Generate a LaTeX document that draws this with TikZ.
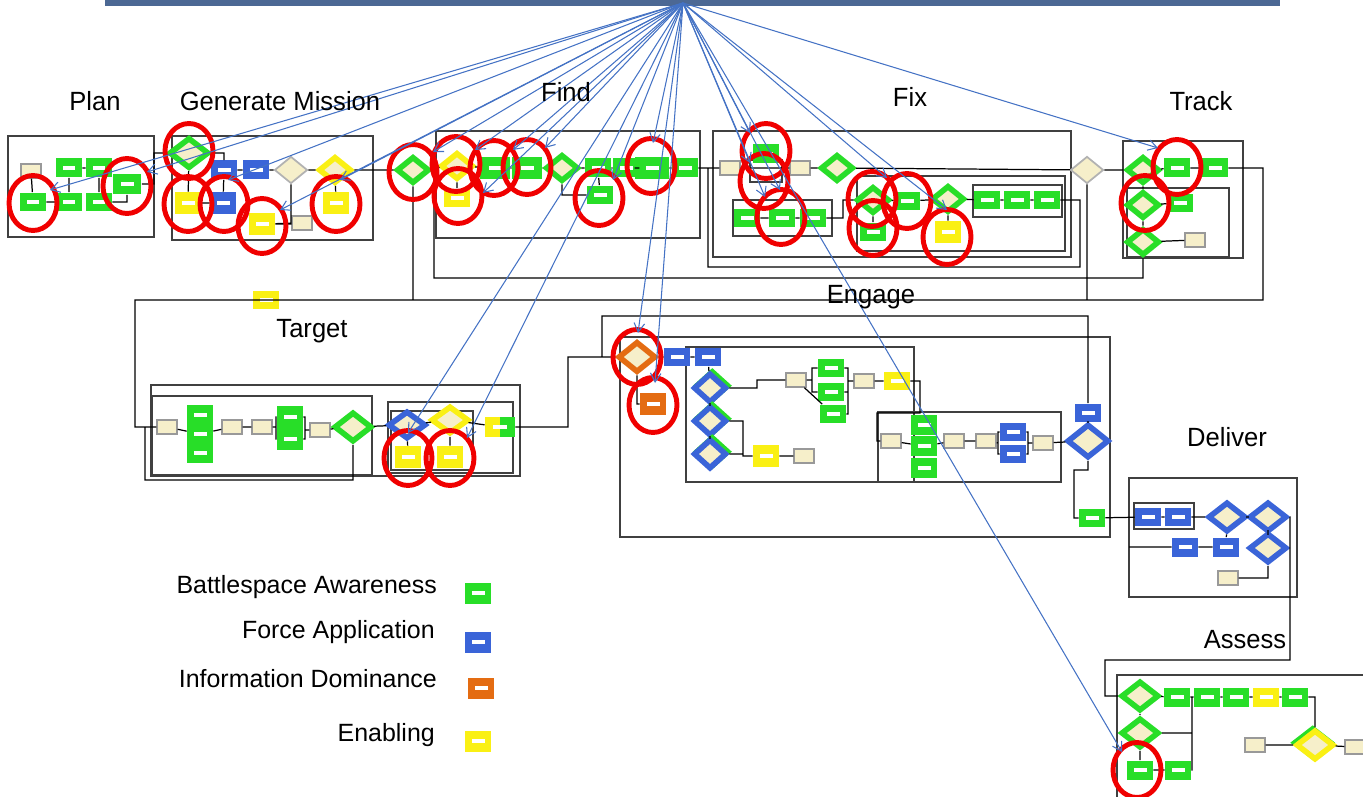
\documentclass[tikz,border=0pt]{standalone}
\usepackage{fontspec}
\setmainfont{Liberation Sans}
\newfontfamily\titlefont[FakeStretch=0.97]{Liberation Sans}
\newfontfamily\legendfont{Liberation Sans}
\usetikzlibrary{shapes.geometric,arrows.meta}

\definecolor{bgreen}{RGB}{40,222,40}
\definecolor{bblue}{RGB}{58,100,216}
\definecolor{borange}{RGB}{228,108,18}
\definecolor{byellow}{RGB}{250,240,20}
\definecolor{beige}{RGB}{246,239,202}
\definecolor{hitred}{RGB}{240,0,0}
\definecolor{arrblue}{RGB}{68,114,196}
\definecolor{barblue}{RGB}{76,104,148}

\tikzset{
cellbox/.style={rectangle,inner sep=0pt,minimum width=0.52cm,minimum height=0.38cm,
  path picture={\fill[white] ([xshift=-0.13cm,yshift=-0.04cm]path picture bounding box.center) rectangle ([xshift=0.13cm,yshift=0.04cm]path picture bounding box.center);}},
gbox/.style={cellbox,fill=bgreen},
bbox/.style={cellbox,fill=bblue},
ybox/.style={cellbox,fill=byellow},
obox/.style={cellbox,fill=borange},
gybox/.style={rectangle,inner sep=0pt,minimum width=0.6cm,minimum height=0.42cm,fill=byellow,
  path picture={\fill[bgreen] (path picture bounding box.north) rectangle (path picture bounding box.south east);
  \fill[white] ([xshift=-0.14cm,yshift=-0.04cm]path picture bounding box.center) rectangle ([xshift=0.14cm,yshift=0.04cm]path picture bounding box.center);}},
doc/.style={rectangle,fill=beige,draw=gray!80,line width=0.8pt,minimum width=0.4cm,minimum height=0.28cm,inner sep=0pt},
dia/.style={diamond,fill=beige,inner sep=0pt,minimum width=0.66cm,minimum height=0.54cm,line width=3.2pt},
gdia/.style={dia,draw=bgreen},
bdia/.style={dia,draw=bblue},
ydia/.style={dia,draw=byellow},
odia/.style={dia,draw=borange},
graydia/.style={dia,draw=gray!60,line width=1pt},
bgdia/.style={dia,draw=bblue,preaction={draw=bgreen,transform canvas={xshift=1.3pt,yshift=1.3pt}}},
gydia/.style={dia,draw=byellow,preaction={draw=bgreen,transform canvas={xshift=-1.3pt,yshift=1.3pt}}},
hit/.style={ellipse,draw=hitred,line width=2.8pt,minimum width=0.96cm,minimum height=1.1cm,inner sep=0pt},
pframe/.style={draw=black!75,line width=0.9pt},
wire/.style={draw=black,line width=0.7pt},
arr/.style={draw=arrblue,line width=0.6pt,-{Straight Barb[length=5pt,width=6pt]}},
ttl/.style={font=\titlefont\fontsize{15}{17}\selectfont},
leg/.style={font=\legendfont\fontsize{14.2}{16}\selectfont,anchor=east}
}

\begin{document}
\begin{tikzpicture}[x=0.02cm,y=-0.02cm]
\useasboundingbox (0,0) rectangle (1363,797);
\fill[barblue] (105,-2) rectangle (1280,6);

\draw[pframe]
(8,136) rectangle (154,237) (172,136) rectangle (373,240)
(436,131) rectangle (700,238)
(713,131) rectangle (1071,257) (857,176) rectangle (1065,251) (733,200) rectangle (832,236)
(973,185) rectangle (1062,217) (750,160) rectangle (782,182)
(1123,141) rectangle (1243,258) (1127,188) rectangle (1229,257)
(151,385) rectangle (520,476) (388,402) rectangle (513,473) (391,411) rectangle (473,470)
(620,337) rectangle (1110,537) (686,347) rectangle (914,482) (878,412) rectangle (1061,482)
(1129,478) rectangle (1297,597) (1134,503) rectangle (1194,529)
(1117,797) |- (1363,675);
\draw[pframe,line width=1.4pt] (152,396) rectangle (372,475);

\node[doc] (pl1) at (31,171) {};
\node[gbox] (pl2) at (69,168) {};
\node[gbox] (pl3) at (99,168) {};
\node[gbox,minimum width=0.58cm,minimum height=0.42cm] (pl4) at (127,184) {};
\node[gbox] (pl5) at (33,202) {};
\node[gbox] (pl6) at (69,202) {};
\node[gbox] (pl7) at (99,202) {};

\node[gdia,minimum width=0.8cm,minimum height=0.62cm] (gm1) at (189,153) {};
\node[bbox] (gm2) at (224,170) {};
\node[bbox] (gm3) at (256,170) {};
\node[graydia] (gm4) at (291,170) {};
\node[ydia] (gm5) at (335,170) {};
\node[ybox,minimum height=0.44cm] (gm6) at (188,203) {};
\node[bbox,minimum height=0.44cm] (gm7) at (223,203) {};
\node[ybox,minimum height=0.44cm] (gm8) at (262,224) {};
\node[doc] (gm9) at (302,223) {};
\node[ybox,minimum height=0.44cm] (gm10) at (336,203) {};

\node[gdia] (fd1) at (413,170) {};
\node[ydia] (fd2) at (457,166) {};
\node[ybox] (fd3) at (457,198) {};
\node[gbox,minimum width=0.6cm,minimum height=0.44cm] (fd4) at (495,168) {};
\node[gbox,minimum width=0.6cm,minimum height=0.44cm] (fd5) at (527,168) {};
\node[gdia] (fd6) at (562,168) {};
\node[gbox] (fd7) at (598,168) {};
\node[gbox] (fd8) at (626,168) {};
\node[gbox,minimum width=0.68cm,minimum height=0.44cm] (fd9) at (652,168) {};
\node[gbox] (fd10) at (685,168) {};
\node[gbox] (fd11) at (600,195) {};

\node[doc] (fx1) at (730,168) {};
\node[gbox] (fx2) at (766,154) {};
\node[doc] (fx4) at (800,168) {};
\node[gdia] (fx5) at (837,168) {};
\node[gbox] (fx6) at (747,218) {};
\node[gbox] (fx7) at (782,218) {};
\node[gbox] (fx8) at (813,218) {};
\node[gdia] (fx9) at (873,200) {};
\node[gbox] (fx10) at (873,232) {};
\node[gbox] (fx11) at (907,201) {};
\node[gdia] (fx12) at (948,199) {};
\node[ybox,minimum height=0.44cm] (fx13) at (948,232) {};
\node[gbox] (fx14) at (987,200) {};
\node[gbox] (fx15) at (1017,200) {};
\node[gbox] (fx16) at (1047,200) {};
\node[graydia] (fx17) at (1087,170) {};

\node[gdia] (tk1) at (1143,170) {};
\node[gbox] (tk2) at (1177,168) {};
\node[gbox] (tk3) at (1215,168) {};
\node[gdia] (tk4) at (1143,205) {};
\node[gbox] (tk5) at (1180,203) {};
\node[gdia] (tk6) at (1143,242) {};
\node[doc] (tk7) at (1195,240) {};

\node[ybox] (tgY) at (266,300) {};
\node[doc] (tg1) at (167,427) {};
\node[gbox,minimum height=0.4cm] (tg2a) at (200,415) {};
\node[gbox,minimum height=0.4cm] (tg2b) at (200,434) {};
\node[gbox,minimum height=0.4cm] (tg2c) at (200,453) {};
\node[doc] (tg3) at (232,427) {};
\node[doc] (tg4) at (262,427) {};
\node[gbox,minimum height=0.44cm] (tg5) at (290,417) {};
\node[gbox,minimum height=0.44cm] (tg6) at (290,439) {};
\node[doc] (tg7) at (320,430) {};
\node[gdia,minimum width=0.76cm,minimum height=0.6cm] (tg8) at (353,427) {};
\node[bdia,minimum width=0.76cm,minimum height=0.56cm] (tg9) at (407,425) {};
\node[ydia,minimum width=0.76cm,minimum height=0.56cm] (tg10) at (450,420) {};
\node[ybox,minimum height=0.44cm] (tg11) at (408,457) {};
\node[ybox,minimum height=0.44cm] (tg12) at (450,457) {};
\node[gybox] (tg13) at (500,427) {};

\node[odia,minimum width=0.76cm,minimum height=0.62cm] (en1) at (637,357) {};
\node[obox,minimum height=0.44cm] (en2) at (653,404) {};
\node[bbox] (en3) at (677,357) {};
\node[bbox] (en4) at (708,357) {};
\node[bgdia,minimum height=0.6cm] (en5) at (710,388) {};
\node[bgdia,minimum height=0.6cm] (en6) at (710,421) {};
\node[bgdia,minimum height=0.6cm] (en7) at (710,454) {};
\node[ybox,minimum height=0.46cm] (en8) at (766,456) {};
\node[doc] (en9) at (804,456) {};
\node[doc] (en10) at (796,380) {};
\node[gbox] (en11) at (831,368) {};
\node[gbox] (en12) at (831,392) {};
\node[gbox] (en13) at (833,414) {};
\node[doc] (en14) at (864,381) {};
\node[ybox] (en15) at (897,381) {};
\node[doc] (en16) at (891,441) {};
\node[gbox,minimum height=0.42cm] (en17a) at (924,425) {};
\node[gbox,minimum height=0.42cm] (en17b) at (924,446) {};
\node[gbox,minimum height=0.42cm] (en17c) at (924,468) {};
\node[doc] (en18) at (954,441) {};
\node[doc] (en19) at (986,441) {};
\node[bbox] (en20a) at (1013,432) {};
\node[bbox] (en20b) at (1013,454) {};
\node[doc] (en21) at (1043,443) {};
\node[bbox] (en22) at (1088,413) {};
\node[bdia,minimum width=0.84cm,minimum height=0.68cm] (en23) at (1088,441) {};
\node[gbox] (en24) at (1092,518) {};

\node[bbox] (dl1) at (1148,517) {};
\node[bbox] (dl2) at (1178,517) {};
\node[bdia,minimum width=0.76cm,minimum height=0.6cm] (dl3) at (1227,517) {};
\node[bdia,minimum width=0.76cm,minimum height=0.6cm] (dl4) at (1268,517) {};
\node[bdia,minimum width=0.76cm,minimum height=0.6cm] (dl5) at (1268,548) {};
\node[bbox] (dl6) at (1185,547) {};
\node[bbox] (dl7) at (1226,547) {};
\node[doc] (dl8) at (1228,578) {};

\node[gdia,minimum width=0.76cm,minimum height=0.6cm] (as1) at (1140,696) {};
\node[gbox] (as2) at (1177,697) {};
\node[gbox] (as3) at (1207,697) {};
\node[gbox] (as4) at (1236,697) {};
\node[ybox] (as5) at (1266,697) {};
\node[gbox] (as6) at (1295,697) {};
\node[gdia,minimum width=0.76cm,minimum height=0.6cm] (as7) at (1140,733) {};
\node[gbox] (as8) at (1140,770) {};
\node[gbox] (as9) at (1178,770) {};
\node[doc] (as10) at (1255,745) {};
\node[gydia,minimum width=0.76cm,minimum height=0.6cm] (as11) at (1315,745) {};
\node[doc] (as12) at (1355,747) {};

\draw[wire]
(pl1)--(pl5) (pl5)--(pl6) (pl2)--(pl3) (pl2)--(pl6) (pl3)--(pl7) (pl7)-|(pl4) (pl4)-|(154,153)--(gm1)
(gm1)--(gm6) (gm1)-|(gm2) (gm2)--(gm3) (gm3)--(gm4) (gm4)--(gm5) (gm5)--(gm10) (gm6)--(gm7) (gm7)--(gm2)
(gm4)|-(gm8) (gm8)--(gm9) (gm5)--(fd1)
(fd1)--(fd2) (fd2)--(fd3) (fd2)--(fd4) (fd4)--(fd5) (fd5)--(fd6) (fd6)--(fd7) (fd6)|-(fd11) (fd7)--(fd11)
(fd7)--(fd8) (fd8)--(fd9) (fd9)--(fd10) (fd10)--(fx1)
(fd1)|-(135,300)|-(tg1) (413,300)--(1263,300)|-(tk3) (tk6)|-(434,278)--(434,166) (fx17)--(1087,300)
(fx16)-|(1080,267)-|(708,168)
(fx1)--(fx4) (fx4)--(fx5) (fx5)--(fx17) (fx17)--(tk1) (fx6)--(fx7) (fx7)--(fx8) (fx8)-|(843,200)--(fx9)
(fx9)--(fx10) (fx9)--(fx11) (fx11)--(fx12) (fx12)--(fx13) (fx12)--(fx14) (fx14)--(fx15) (fx15)--(fx16)
(tk1)--(tk2) (tk2)--(tk3) (tk1)--(tk4) (tk4)--(tk5) (tk4)--(tk6) (tk6)--(tk7)
(tg1)--(tg2b) (tg2b)--(tg3) (tg3)--(tg4) (tg4)--(276,427)|-(tg5) (276,427)|-(tg6) (tg5)-|(305,430)--(tg7) (tg6)-|(305,430)
(tg7)--(tg8) (tg8)--(tg9) (tg9)--(tg10) (tg9)--(tg11) (tg10)--(tg12) (tg10)--(tg13) (tg8)|-(145,480)|-(tg1)
(tg13)--(568,427)|-(en1)
(en22)|-(602,316)--(602,357)
(en1)--(en3) (en3)--(en4) (en1)|-(en2) (en4)--(en5) (en5)--(en6) (en6)--(en7)
(en5)--(757,388)|-(en10) (en10)--(812,380)|-(en11) (812,380)|-(en12) (en10)--(en13)
(en11)-|(848,381)--(en14) (en12)-|(848,381) (en13)-|(848,381) (en14)--(en15) (en15)-|(920,413)-|(877,441)--(en16)
(en6)-|(743,456)--(en8) (en7)-|(743,456) (en8)--(en9)
(en16)--(en17b) (en17b)--(en18) (en18)--(en19) (en19)--(998,443)|-(en20a) (998,443)|-(en20b)
(en20a)-|(1028,443)--(en21) (en20b)-|(1028,443) (en21)--(en23) (en22)--(en23)
(en23)--(1088,470)-|(1074,518)--(en24) (en24)--(dl1)
(dl1)--(dl2) (dl2)--(dl3) (dl3)--(dl4) (dl3)--(dl7) (dl6)--(dl7) (dl6)--(1129,547) (dl4)--(dl5) (dl5)|-(dl8) (dl5)--(1290,548)
(dl4)-|(1290,660)-|(1105,696)--(as1)
(as1)--(as2) (as2)--(as3) (as3)--(as4) (as4)--(as5) (as5)--(as6) (as6)-|(as11) (as1)--(as7) (as7)--(as8) (as8)--(as9)
(as7)--(1192,733) (as9)-|(1192,697) (as10)--(as11) (as11)--(as12);

\node[hit] (h1) at (33,203) {};
\node[hit] (h2) at (127,186) {};
\node[hit] (h3) at (189,151) {};
\node[hit] (h4) at (188,204) {};
\node[hit] (h5) at (224,204) {};
\node[hit] (h6) at (262,226) {};
\node[hit] (h7) at (336,204) {};
\node[hit] (h8) at (413,172) {};
\node[hit] (h9) at (456,164) {};
\node[hit] (h10) at (458,196) {};
\node[hit] (h11) at (494,168) {};
\node[hit] (h12) at (527,167) {};
\node[hit] (h13) at (599,198) {};
\node[hit] (h14) at (651,166) {};
\node[hit] (h15) at (766,151) {};
\node[hit] (h16) at (764,181) {};
\node[hit] (h17) at (781,217) {};
\node[hit] (h18) at (872,199) {};
\node[hit] (h19) at (873,228) {};
\node[hit] (h20) at (907,201) {};
\node[hit] (h21) at (947,237) {};
\node[hit] (h22) at (1177,167) {};
\node[hit] (h23) at (1145,203) {};
\node[hit] (h24) at (408,458) {};
\node[hit] (h25) at (450,458) {};
\node[hit] (h26) at (637,357) {};
\node[hit] (h27) at (653,405) {};
\node[hit] (h28) at (1137,770) {};

\coordinate (src) at (683,3);
\coordinate (a1) at (50,190); \coordinate (a2) at (147,172); \coordinate (a3) at (228,180);
\coordinate (a4) at (280,210); \coordinate (a5) at (340,180);
\coordinate (a6) at (433,152); \coordinate (a7) at (475,150); \coordinate (a8) at (513,150);
\coordinate (a9) at (545,148); \coordinate (a10) at (483,193); \coordinate (a11) at (613,180);
\coordinate (a12) at (653,143);
\coordinate (a13) at (750,133); \coordinate (a14) at (750,163); \coordinate (a15) at (765,197);
\coordinate (a16) at (780,190); \coordinate (a17) at (887,178); \coordinate (a18) at (947,210);
\coordinate (a19) at (1158,148);
\coordinate (a20) at (408,433); \coordinate (a21) at (467,438);
\coordinate (a22) at (638,333); \coordinate (a23) at (655,383);
\coordinate (a24) at (1122,752);
\draw[arr] (src) edge (a1) edge (a2) edge (a3) edge (a4) edge (a5) edge (a6) edge (a7) edge (a8)
edge (a9) edge (a10) edge (a11) edge (a12) edge (a13) edge (a14) edge (a15) edge (a16)
edge (a17) edge (a18) edge (a19) edge (a20) edge (a21) edge (a22) edge (a23) edge (a24);

\node[ttl] (tPlan) at (95,101) {Plan};
\node[ttl] (tGen) at (280,101) {Generate Mission};
\node[ttl] (tFind) at (566,92) {Find};
\node[ttl] (tFix) at (910,97) {Fix};
\node[ttl] (tTrack) at (1201,101) {Track};
\node[ttl] (tTarget) at (312,331) {Target};
\node[ttl] (tEngage) at (871,297) {Engage};
\node[ttl] (tDeliver) at (1227,437) {Deliver};
\node[ttl] (tAssess) at (1245,640) {Assess};

\node[leg] (lBA) at (443,587) {Battlespace Awareness};
\node[leg] (lFA) at (441,632) {Force Application};
\node[leg] (lID) at (443,679) {Information Dominance};
\node[leg] (lEN) at (441,735) {Enabling};
\node[gbox,minimum width=0.52cm,minimum height=0.42cm] (kBA) at (478,593) {};
\node[bbox,minimum width=0.52cm,minimum height=0.42cm] (kFA) at (478,642) {};
\node[obox,minimum width=0.52cm,minimum height=0.42cm] (kID) at (481,688) {};
\node[ybox,minimum width=0.52cm,minimum height=0.42cm] (kEN) at (478,741) {};
\end{tikzpicture}
\end{document}
